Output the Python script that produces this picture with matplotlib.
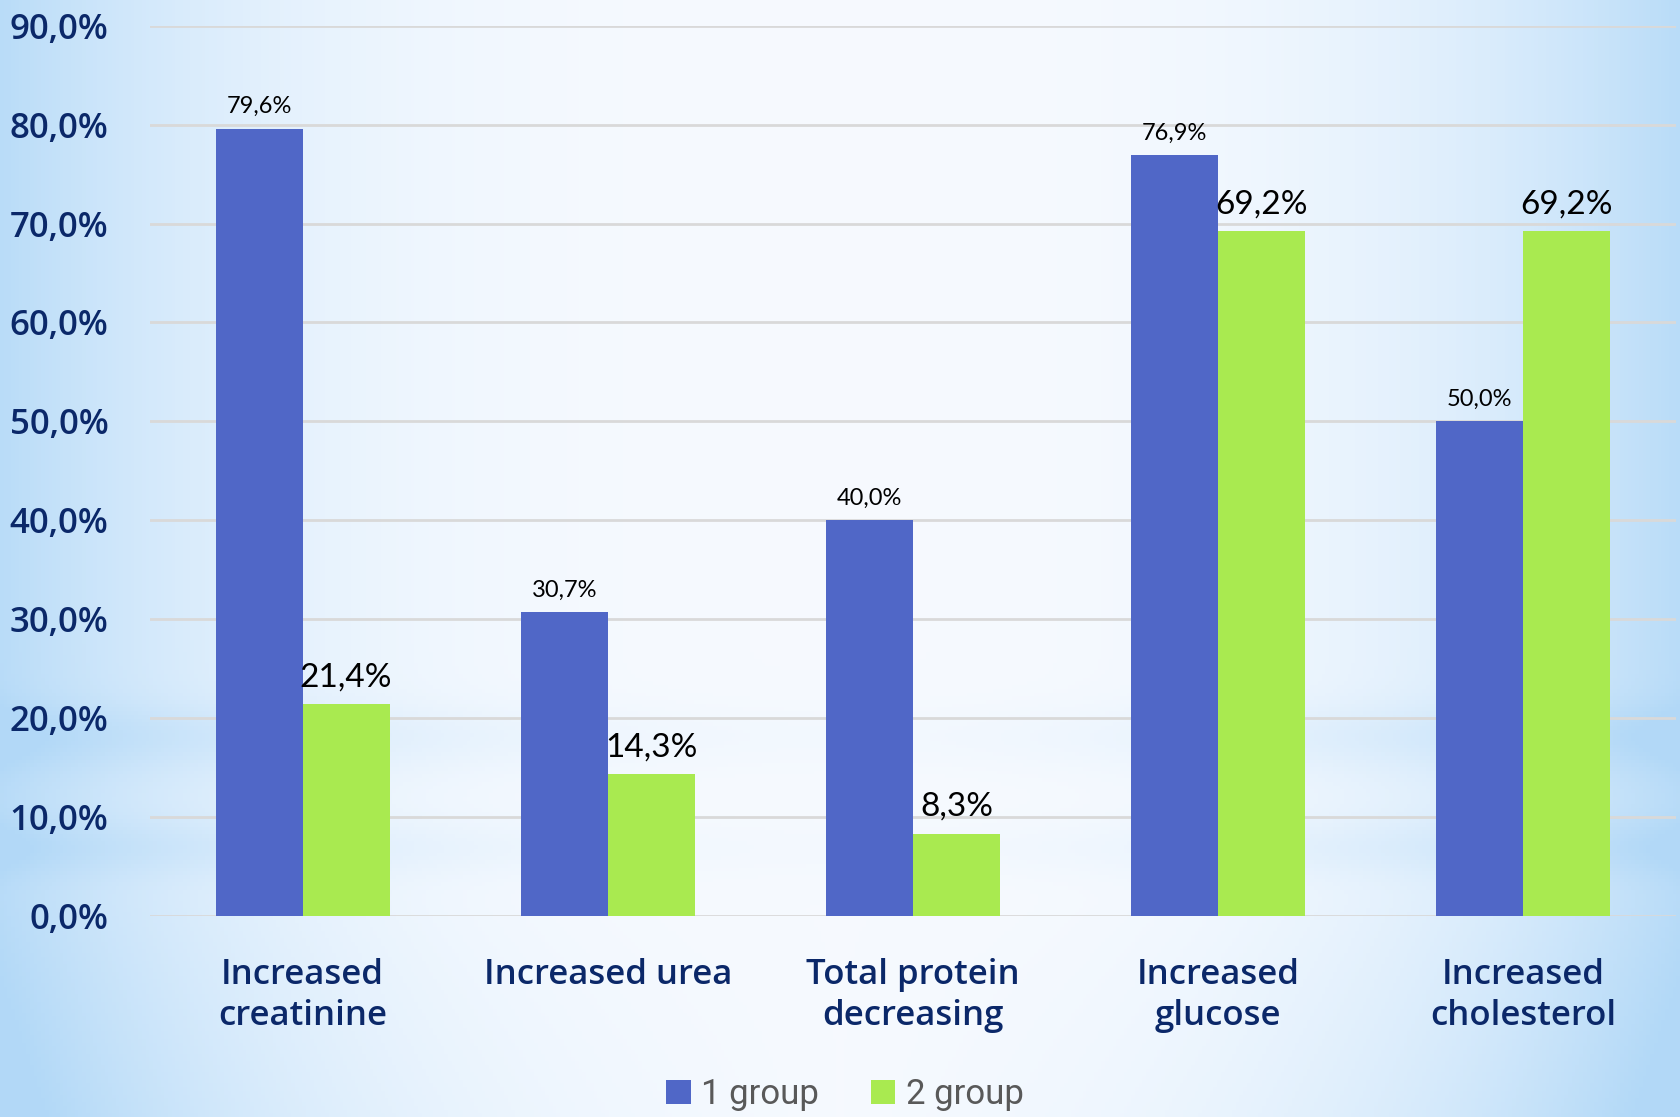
import numpy as np
from matplotlib import pyplot as plt

# data
categories = ['Increased\ncreatinine', 'Increased urea', 'Total protein\ndecreasing',
              'Increased\nglucose', 'Increased\ncholesterol']
group1 = [79.6, 30.7, 40.0, 76.9, 50.0]
group2 = [21.4, 14.3, 8.3, 69.2, 69.2]
series_names = ['1 group', '2 group']
yticks = [0, 10, 20, 30, 40, 50, 60, 70, 80, 90]

blue = '#5067C7'
green = '#A9EA50'
navy = '#0B2869'

fig = plt.figure(figsize=(16.8, 11.17), dpi=100)

# light blue gradient background
bg = fig.add_axes([0, 0, 1, 1], zorder=0)
h, w = 300, 450
yy, xx = np.mgrid[0:1:h * 1j, 0:1:w * 1j]
edge = np.clip(np.abs(xx - 0.5) * 2, 0, 1) ** 3
band = 0.25 * np.exp(-((yy - 0.66) / 0.03) ** 2) + 0.2 * np.exp(-((yy - 0.76) / 0.025) ** 2)
band = band * (1 - np.exp(-((xx - 0.5) / 0.3) ** 2) * 0.8)
low = np.clip((yy - 0.8) / 0.2, 0, 1) * 0.25
t = np.clip(edge * 0.9 + band + low * (np.abs(xx - 0.5) * 2), 0, 1)
c0 = np.array([0.965, 0.98, 1.0])
c1 = np.array([0.70, 0.85, 0.97])
img = c0 + t[..., None] * (c1 - c0)
bg.imshow(img, extent=[0, 1, 0, 1], aspect='auto', origin='upper')
bg.axis('off')

ax = fig.add_axes([0.0893, 0.180, 0.9083, 0.797], zorder=1)
ax.set_facecolor('none')

x = np.arange(len(categories))
bw = 0.285
b1 = ax.bar(x - bw / 2, group1, bw, color=blue, label=series_names[0], zorder=3)
b2 = ax.bar(x + bw / 2, group2, bw, color=green, label=series_names[1], zorder=3)

for xi, v in zip(x, group1):
    ax.text(xi - bw / 2, v + 1.2, f'{v:.1f}%'.replace('.', ','), ha='center', va='bottom',
            fontsize=17, family='Lato', color='black')
for xi, v in zip(x, group2):
    ax.text(xi + bw / 2, v + 1.2, f'{v:.1f}%'.replace('.', ','), ha='center', va='bottom',
            fontsize=24, family='Lato', color='black')

ax.set_xlim(-0.5, len(categories) - 0.5)
ax.set_ylim(0, 90)
ax.set_yticks(yticks)
ax.set_yticklabels([f'{v:.1f}%'.replace('.', ',') for v in yticks],
                   fontsize=25, family='Open Sans', fontweight='semibold', color=navy)
ax.set_xticks(x)
ax.set_xticklabels(categories, fontsize=25, family='Open Sans', fontweight='semibold',
                   color=navy, linespacing=1.3)
ax.tick_params(axis='both', length=0)
ax.tick_params(axis='y', pad=30)
ax.tick_params(axis='x', pad=30)
ax.grid(axis='y', color='#D9D9D9', linewidth=2, zorder=0)
for s in ax.spines.values():
    s.set_visible(False)

fig.legend(handles=[b1, b2], labels=series_names, loc='center', bbox_to_anchor=(0.503, 0.02),
           ncol=2, frameon=False, prop={'family': 'Roboto', 'size': 25},
           labelcolor='#595959', handlelength=0.7, handleheight=0.7, handletextpad=0.3,
           columnspacing=1.5)

fig.savefig('out.png', dpi=100)
